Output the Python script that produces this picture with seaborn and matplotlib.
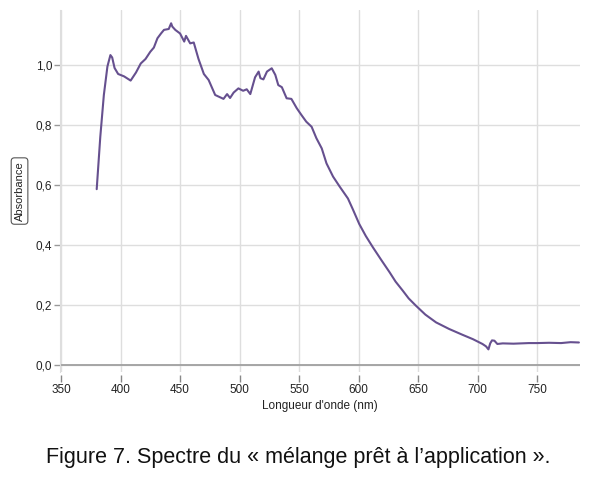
import matplotlib
matplotlib.use("Agg")
import matplotlib.pyplot as plt
import seaborn as sns
import pandas as pd

# longueur d'onde (nm) et absorbance
longueur_onde = [380, 383, 386, 389, 391.5, 393, 395, 398, 403, 408.5, 413, 417, 421, 425, 428,
                 431, 434, 436.5, 440.5, 442.5, 443.5, 446, 450, 453.5, 455, 458.5, 461.5, 465.5,
                 470, 474, 479.5, 486.5, 489.5, 492, 495, 499, 503, 506, 509, 513, 516, 517.5,
                 520, 523, 527, 530, 532.5, 535.5, 539.5, 543.5, 548, 552, 556, 560.5, 564.5,
                 569, 573, 578.5, 584, 591, 595, 600.5, 606, 612, 619, 626, 631, 637, 642, 648,
                 656, 665, 676, 687, 696, 704, 707, 709, 710.5, 712, 714, 716.5, 721, 730, 743,
                 750, 760, 770, 778, 785]
absorbance = [0.586, 0.76, 0.90, 0.995, 1.033, 1.025, 0.99, 0.97, 0.962, 0.948, 0.975, 1.005,
              1.02, 1.044, 1.058, 1.089, 1.105, 1.117, 1.12, 1.139, 1.128, 1.117, 1.105, 1.078,
              1.097, 1.072, 1.075, 1.02, 0.97, 0.95, 0.90, 0.887, 0.903, 0.89, 0.908, 0.922,
              0.914, 0.919, 0.903, 0.959, 0.978, 0.956, 0.952, 0.978, 0.989, 0.967, 0.933, 0.926,
              0.889, 0.887, 0.856, 0.833, 0.811, 0.794, 0.756, 0.722, 0.672, 0.628, 0.595, 0.555,
              0.52, 0.47, 0.43, 0.392, 0.35, 0.309, 0.278, 0.248, 0.222, 0.198, 0.168, 0.142,
              0.12, 0.101, 0.086, 0.07, 0.062, 0.052, 0.072, 0.082, 0.081, 0.07, 0.072, 0.071,
              0.073, 0.073, 0.074, 0.073, 0.076, 0.075]

xticks = [350, 400, 450, 500, 550, 600, 650, 700, 750]
yticks = [0.0, 0.2, 0.4, 0.6, 0.8, 1.0]
ytick_labels = ["0,0", "0,2", "0,4", "0,6", "0,8", "1,0"]

spectre = pd.DataFrame({"nm": longueur_onde, "abs": absorbance})

sns.set_style("whitegrid", {"grid.color": "#dedede"})
plt.rcParams["font.family"] = ["Liberation Sans", "DejaVu Sans"]

fig = plt.figure(figsize=(6.1, 4.8), dpi=100)
ax = fig.add_axes([0.099, 0.224, 0.852, 0.755])

sns.lineplot(data=spectre, x="nm", y="abs", ax=ax, color="#66508f", linewidth=1.5)

ax.set_xlim(349.5, 786)
ax.set_ylim(-0.025, 1.183)
ax.set_xticks(xticks)
ax.set_yticks(yticks)
ax.set_yticklabels(ytick_labels)
ax.grid(True, color="#dedede", linewidth=1)
ax.axhline(0, color="#a0a0a0", linewidth=1.3, zorder=1)

for s in ["top", "right"]:
    ax.spines[s].set_visible(False)
ax.spines["left"].set_color("#dedede")
ax.spines["bottom"].set_position(("outward", 2))
ax.spines["bottom"].set_visible(False)
ax.tick_params(axis="x", bottom=True, length=5, width=1, color="#888888",
               labelsize=8.5, pad=1, labelcolor="#222222")
ax.tick_params(axis="y", left=True, length=4, width=1, color="#999999",
               labelsize=8.5, pad=2, labelcolor="#222222")

ax.set_xlabel("Longueur d'onde (nm)", fontsize=8.5, color="#222222", labelpad=3)
ax.set_ylabel("")
fig.text(0.032, 0.602, "Absorbance", rotation=90, ha="center", va="center",
         fontsize=8, color="#222222",
         bbox=dict(boxstyle="round,pad=0.3,rounding_size=0.3", fc="white", ec="#555555", lw=0.8))

fig.text(0.489, 0.046, "Figure 7. Spectre du « mélange prêt à l’application ».",
         ha="center", va="center", fontsize=15.5, color="#111111")

fig.savefig("out.png", dpi=100)
